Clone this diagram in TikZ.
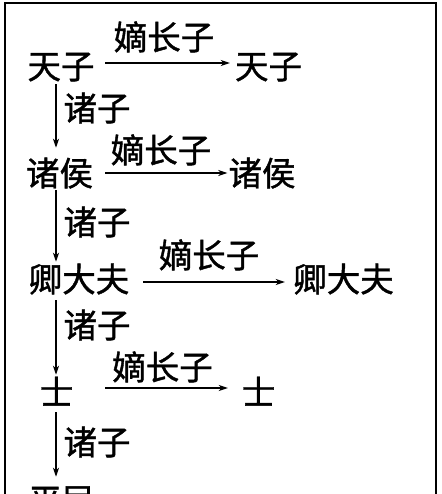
\documentclass[tikz,border=0pt]{standalone}
\usepackage{fontspec}
\setmainfont{Noto Sans CJK SC}[FakeBold=1.2]
\usetikzlibrary{arrows.meta}
\begin{document}
\begin{tikzpicture}[x=1pt,y=-1pt,
  lbl/.style={inner sep=0pt,font=\fontsize{33.5pt}{40pt}\selectfont,text height=27.8pt,text depth=2.3pt},
  harr/.style={line width=1.3pt,-{Stealth[length=9pt,width=6pt,inset=2.5pt]}},
  varr/.style={line width=1.3pt,-{Stealth[length=9pt,width=6pt,inset=2.5pt]}},
  frame/.style={line width=2pt}]
\useasboundingbox (0,0) rectangle (441,494);
\clip (0,0) rectangle (441,494);
\fill[white] (0,0) rectangle (441,494);
\draw[frame] (5,500) -- (5,3) -- (436,3) -- (436,500);
\coordinate (axis) at (56,0);
% row 1
\node[lbl] (L1) at (61,66) {天子};
\node[lbl] (R1) at (268.5,66) {天子};
\node[lbl] (E1) at (164,37) {嫡长子};
% row 2
\node[lbl] (L2) at (59.5,173) {诸侯};
\node[lbl] (R2) at (262,173) {诸侯};
\node[lbl] (E2) at (161,150) {嫡长子};
% row 3
\node[lbl] (L3) at (79,279) {卿大夫};
\node[lbl] (R3) at (343.5,279) {卿大夫};
\node[lbl] (E3) at (209,255) {嫡长子};
% row 4
\node[lbl] (L4) at (56.5,392) {士};
\node[lbl] (R4) at (258.5,392) {士};
\node[lbl] (E4) at (162.5,367) {嫡长子};
% row 5
\node[lbl] (L5) at (62,500) {平民};
% 诸子 labels
\node[lbl] (Z1) at (97,108) {诸子};
\node[lbl] (Z2) at (97,222) {诸子};
\node[lbl] (Z3) at (97,325) {诸子};
\node[lbl] (Z4) at (97,442) {诸子};
% horizontal arrows
\draw[harr,shorten <=10.5pt,shorten >=5pt] ([yshift=3pt]L1.east) -- ([yshift=3pt]R1.west);
\draw[harr,shorten <=12pt,shorten >=1pt] (L2.east) -- (R2.west);
\draw[harr,shorten <=13.75pt,shorten >=8.25pt] ([yshift=-3pt]L3.east) -- ([yshift=-3pt]R3.west);
\draw[harr,shorten <=31.75pt,shorten >=13.75pt] ([yshift=4pt]L4.east) -- ([yshift=4pt]R4.west);
% vertical arrows
\draw[varr,shorten <=3pt,shorten >=10pt] (L1.south -| axis) -- (L2.north -| axis);
\draw[varr,shorten <=2pt,shorten >=2pt] (L2.south -| axis) -- (L3.north -| axis);
\draw[varr,shorten <=6pt,shorten >=2pt] (L3.south -| axis) -- (L4.north -| axis);
\draw[varr,shorten <=5pt,shorten >=8pt] (L4.south -| axis) -- (L5.north -| axis);
\end{tikzpicture}
\end{document}
